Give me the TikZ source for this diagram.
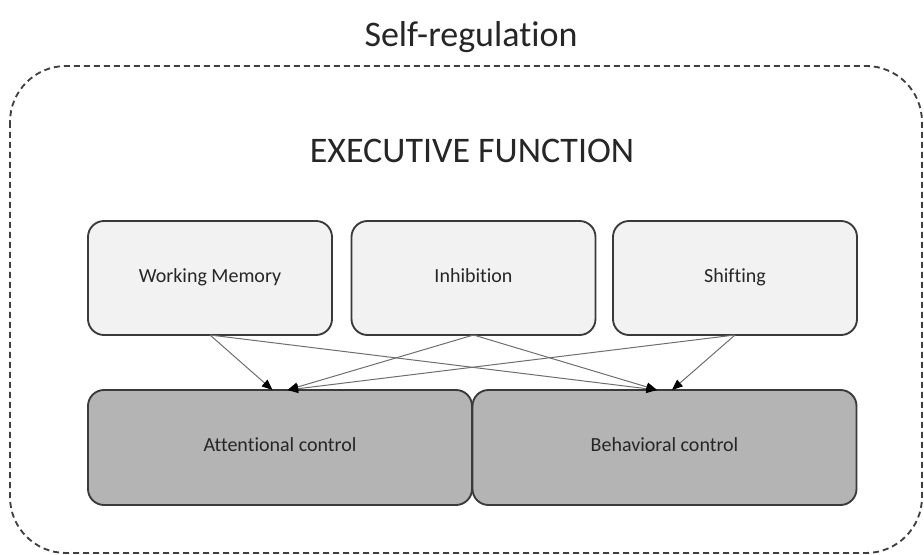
\documentclass[tikz,border=0pt]{standalone}
\usepackage{fontspec}
\setmainfont{Carlito}[Ligatures={NoCommon}]
\usetikzlibrary{arrows.meta}
\definecolor{edgec}{HTML}{3A3A3A}
\definecolor{lightbox}{HTML}{F2F2F2}
\definecolor{darkbox}{HTML}{B4B4B4}
\definecolor{linkc}{HTML}{6E6E6E}
\definecolor{textc}{HTML}{262626}
\definecolor{dashc}{HTML}{404040}
\tikzset{
  topbox/.style={draw=edgec, fill=lightbox, line width=1.4pt, rounded corners=12pt,
    minimum width=183pt, minimum height=85.5pt, inner sep=0pt, outer sep=0pt,
    font=\fontsize{15pt}{18pt}\selectfont, text=textc, text height=0.63em, text depth=0pt},
  botbox/.style={draw=edgec, fill=darkbox, line width=1.4pt, rounded corners=12pt,
    minimum width=288pt, minimum height=86.25pt, inner sep=0pt, outer sep=0pt,
    font=\fontsize{15pt}{18pt}\selectfont, text=textc, text height=0.63em, text depth=0pt},
  bigtitle/.style={font=\fontsize{27pt}{32pt}\selectfont, text=textc, inner sep=0pt, anchor=base},
  link/.style={draw=linkc, line width=0.75pt, -{Triangle[length=8pt,width=6.5pt,color=black]}},
  border/.style={draw=dashc, line width=1.4pt, dash pattern=on 4.5pt off 3pt, rounded corners=42pt}
}
\begin{document}
\begin{tikzpicture}[x=0.75pt,y=-0.75pt]
\useasboundingbox (0,0) rectangle (924,555);
\draw[border] (10,66) rectangle (922,553);
\node[bigtitle] (sr) at (471,47) {Self-regulation};
\node[bigtitle] (ef) at (472,163) {EXECUTIVE FUNCTION};
\node[topbox] (wm) at (210,278) {Working Memory};
\node[topbox] (inh) at (473.5,278) {Inhibition};
\node[topbox] (sh) at (735,278) {Shifting};
\node[botbox] (att) at (280,447.5) {Attentional control};
\node[botbox] (beh) at (664.5,447.5) {Behavioral control};
\draw[link] (wm.south) -- ([xshift=-5.6pt]att.north);
\draw[link] (wm.south) -- ([xshift=-5.6pt]beh.north);
\draw[link] (inh.south) -- ([xshift=5.6pt]att.north);
\draw[link] (inh.south) -- ([xshift=-5.6pt]beh.north);
\draw[link] (sh.south) -- ([xshift=5.6pt]att.north);
\draw[link] (sh.south) -- ([xshift=5.6pt]beh.north);
\end{tikzpicture}
\end{document}
